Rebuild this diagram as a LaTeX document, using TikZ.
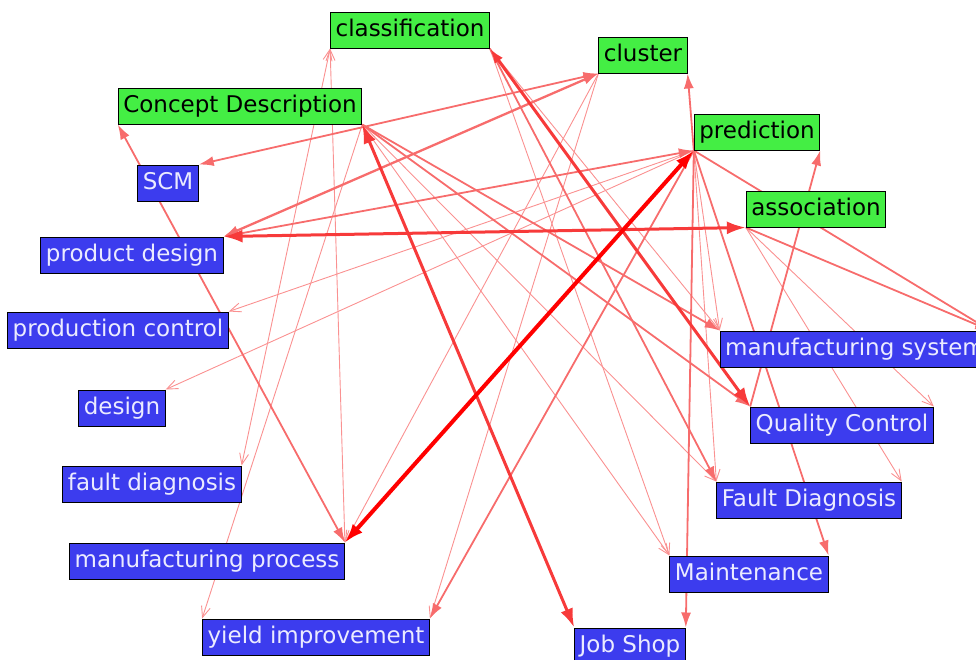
\documentclass[tikz,border=0pt]{standalone}
\usepackage{fontspec}
\setmainfont{DejaVu Sans}
\usetikzlibrary{arrows.meta,backgrounds}

\definecolor{techgreen}{RGB}{68,238,68}
\definecolor{appblue}{RGB}{60,60,238}
\definecolor{apptext}{RGB}{235,235,255}
\definecolor{linkpale}{RGB}{250,145,145}
\definecolor{linkmid}{RGB}{247,108,108}
\definecolor{linkdark}{RGB}{247,58,58}
\definecolor{linkfull}{RGB}{255,0,0}

\tikzset{
	pinkbarb/.tip = {Straight Barb[length=11pt,width=9pt]},
	redhead/.tip = {Latex[length=15pt,width=10pt]},
	bigredhead/.tip = {Latex[length=19pt,width=13pt]}
}

\begin{document}
\begin{tikzpicture}[x=1pt, y=-1pt,
	box/.style = {draw=black, line width=1pt, inner xsep=5pt, inner ysep=0pt, minimum height=36pt, text height=17pt, text depth=5pt, font=\fontsize{23}{27}\selectfont},
	tech/.style = {box, fill=techgreen, text=black},
	app/.style = {box, fill=appblue, text=apptext},
	thinlink/.style = {draw=linkpale, line width=0.9pt, -pinkbarb},
	midlink/.style = {draw=linkmid, line width=1.8pt, -redhead},
	thicklink/.style = {draw=linkdark, line width=3pt, -bigredhead},
	heavylink/.style = {draw=linkfull, line width=4pt, -bigredhead}]
						\useasboundingbox (0, 0) rectangle (976, 659);
						\node[tech] (class) at (410, 30) {classification};
						\node[tech] (clus) at (643, 55) {cluster};
						\node[tech] (cd) at (240, 106) {Concept Description};
						\node[tech] (pred) at (757, 132) {prediction};
						\node[tech] (assoc) at (816, 209) {association};
						\node[app] (scm) at (168, 183) {SCM};
						\node[app] (pd) at (132, 255) {product design};
						\node[app] (pc) at (118, 330) {production control};
						\node[app] (des) at (122, 408) {design};
						\node[app] (fd) at (152, 484) {fault diagnosis};
						\node[app] (mp) at (207, 561) {manufacturing process};
						\node[app] (yi) at (316, 637) {yield improvement};
						\node[app] (js) at (630, 646) {Job Shop};
						\node[app] (mnt) at (749, 574) {Maintenance};
						\node[app] (FD) at (809, 500) {Fault Diagnosis};
						\node[app] (qc) at (842, 425) {Quality Control};
						\node[app] (ms) at (855, 349) {manufacturing system};
						\begin{scope}[on background layer]
							\draw[thinlink, pinkbarb-pinkbarb] (class.south west) -- (mp.north east);
							\draw[thinlink, pinkbarb-pinkbarb] (class.south west) -- (fd.north east);
							\draw[thinlink] (cd.south east) -- (yi.north west);
							\draw[thinlink] (clus.south west) -- (mp.north east);
							\draw[thinlink] (clus.south west) -- (yi.north east);
							\draw[thinlink] (pred.south west) -- (des.north east);
							\draw[thinlink] (pred.south west) -- (pc.north east);
							\draw[thinlink] (pred.south west) -- (FD.north west);
							\draw[thinlink] (pred.south west) -- (ms.north west);
							\draw[thinlink] (assoc.south west) -- (qc.north east);
							\draw[thinlink] (assoc.south west) -- (FD.north east);
							\draw[thinlink] (cd.south east) -- (FD.north west);
							\draw[thinlink] (cd.south east) -- (mnt.north west);
							\draw[thinlink] (class.south east) -- (mnt.north west);
							\draw[thinlink] (class.south east) -- (ms.north west);
							\draw[midlink, redhead-redhead] (scm.north east) -- (clus.south west);
							\draw[midlink, redhead-redhead, line width=2.3pt] (pd.north east) -- (clus.south west);
							\draw[midlink, redhead-redhead] (pd.north east) -- (pred.south west);
							\draw[midlink, redhead-redhead] (cd.south west) -- (mp.north east);
							\draw[midlink] (cd.south east) -- (qc.north west);
							\draw[midlink] (cd.south east) -- (ms.north west);
							\draw[midlink] (class.south east) -- (FD.north west);
							\draw[midlink] (pred.south west) -- (mnt.north east);
							\draw[midlink] (pred.south west) -- (ms.north east);
							\draw[midlink] (assoc.south west) -- (ms.north east);
							\draw[midlink] (qc.north west) -- (pred.south east);
							\draw[midlink] (pred.south west) -- (yi.north east);
							\draw[midlink] (pred.south west) -- (js.north east);
							\draw[midlink] (pred.south west) -- (clus.south east);
							\draw[thicklink, bigredhead-bigredhead] (cd.south east) -- (js.north west);
							\draw[thicklink, bigredhead-bigredhead] (pd.north east) -- (assoc.south west);
							\draw[thicklink, redhead-bigredhead] (class.south east) -- (qc.north west);
							\draw[heavylink, bigredhead-bigredhead] (pred.south west) -- (mp.north east);
						\end{scope}
					\end{tikzpicture}
\end{document}
